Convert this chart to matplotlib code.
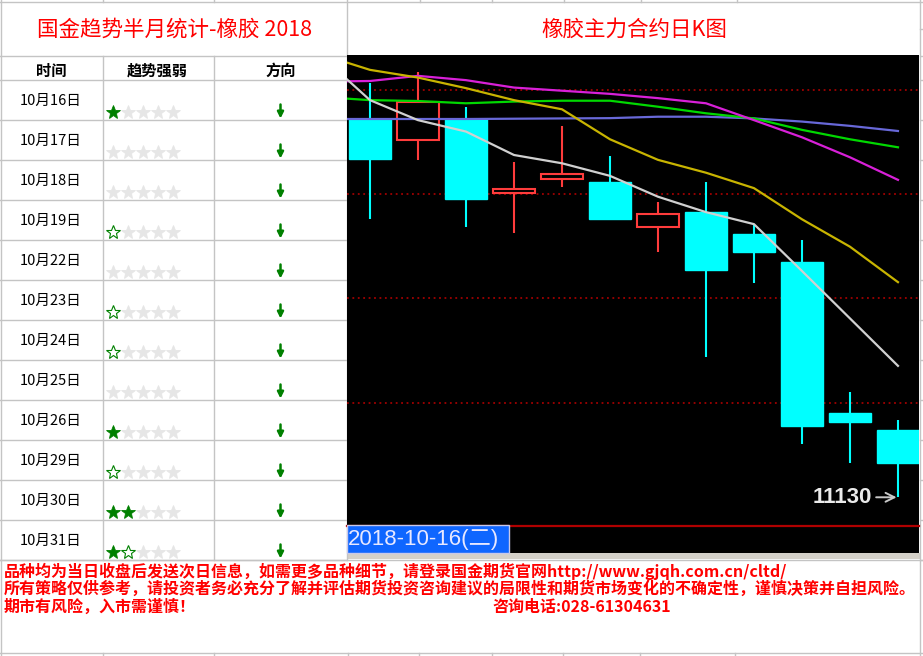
import matplotlib
matplotlib.use('Agg')
import matplotlib.pyplot as plt
from matplotlib.patches import Rectangle
from matplotlib.lines import Line2D

plt.rcParams['font.family'] = ['Noto Sans CJK SC', 'DejaVu Sans']

# ---------------- data ----------------
table_title = '国金趋势半月统计-橡胶 2018'
chart_title = '橡胶主力合约日K图'
headers = ['时间', '趋势强弱', '方向']
dates = ['10月16日', '10月17日', '10月18日', '10月19日', '10月22日', '10月23日',
         '10月24日', '10月25日', '10月26日', '10月29日', '10月30日', '10月31日']
# stars: whole number = filled star, .5 = hollow star
strength = [1, 0, 0, 0.5, 0, 0.5, 0.5, 0, 1, 0.5, 2, 1.5]
direction = ['down', 'down', 'down', 'down', 'down', 'down',
             'down', 'down', 'down', 'down', 'down', 'down']

opens  = [12455, 12380, 12455, 12195, 12245, 12235, 12075, 12130, 12050, 11955, 11425, 11365]
highs  = [12580, 12620, 12495, 12305, 12430, 12325, 12165, 12235, 12085, 12030, 11500, 11400]
lows   = [12105, 12310, 12075, 12055, 12215, 12100, 11990, 11620, 11880, 11315, 11250, 11130]
closes = [12315, 12515, 12175, 12210, 12260, 12105, 12120, 11925, 11990, 11380, 11395, 11250]

# moving averages, first value belongs to the day before the first candle
ma5  = [12672, 12520, 12450, 12410, 12328, 12299, 12255, 12182, 12128, 12086, 11922, 11756, 11590]
ma10 = [12679, 12626, 12599, 12562, 12520, 12488, 12383, 12311, 12266, 12212, 12103, 12007, 11883]
ma20 = [12585, 12587, 12605, 12590, 12564, 12553, 12542, 12527, 12509, 12450, 12390, 12320, 12241]
ma40 = [12531, 12520, 12517, 12509, 12515, 12518, 12518, 12497, 12474, 12456, 12416, 12383, 12355]
ma60 = [12454, 12454, 12454, 12454, 12455, 12456, 12457, 12462, 12462, 12456, 12445, 12430, 12412]
grid_levels = [12556, 12191, 11827, 11460]
cursor_date = '2018-10-16(二)'

notes = ['品种均为当日收盘后发送次日信息，如需更多品种细节，请登录国金期货官网http://www.gjqh.com.cn/cltd/',
         '所有策略仅供参考，请投资者务必充分了解并评估期货投资咨询建议的局限性和期货市场变化的不确定性，谨慎决策并自担风险。',
         '期市有风险，入市需谨慎！']
phone = '咨询电话:028-61304631'

# ---------------- layout ----------------
W, H = 923, 656
fig = plt.figure(figsize=(W / 100, H / 100), dpi=100)
fig.patch.set_facecolor('white')

bg = fig.add_axes([0, 0, 1, 1])
bg.set_xlim(0, W)
bg.set_ylim(H, 0)
bg.axis('off')

GRID = '#c4c4c4'
col_x = [0.5, 102.5, 213.5, 347]
title_h, header_b, row_h = 55.5, 79.5, 40
n = len(dates)
table_b = header_b + n * row_h

def hline(y, x0, x1, **kw):
    bg.add_line(Line2D([x0, x1], [y, y], color=GRID, lw=1, **kw))

def vline(x, y0, y1, **kw):
    bg.add_line(Line2D([x, x], [y0, y1], color=GRID, lw=1, **kw))

# outer / row lines
hline(1.5, 0, W)
hline(title_h, 0, 347)
for r in range(n + 1):
    hline(header_b + r * row_h, 0, 347)
    hline(header_b + r * row_h, 920, W)
hline(title_h, 920, W)
hline(29, 920, W)
hline(table_b, 0, W)
hline(653, 0, W)
vline(col_x[0], 0, H)
for x in col_x[1:3]:
    vline(x, title_h, table_b)
    vline(x, 0, 1.5)
    vline(x, 653, H)
vline(347, 0, table_b)
vline(920, 0, H)
for x in [348, 419, 492, 563, 640, 735]:
    vline(x, 653, H)
for x in [420, 492, 564, 641, 737]:
    vline(x, 0, 1.5)

# titles
bg.text(175, 30, table_title, color='#ff0000', fontsize=15.5, ha='center', va='center')
bg.text(634, 30, chart_title, color='#ff0000', fontsize=15.5, ha='center', va='center')

# header
centers = [51, 157, 280.5]
for cx, h in zip(centers, headers):
    bg.text(cx, 71, h, fontsize=11, fontweight='bold', ha='center', va='center', color='black')

# rows
star_x = [113 + 15 * k for k in range(5)]
for r, (d, s, dr) in enumerate(zip(dates, strength, direction)):
    top = header_b + r * row_h
    bg.text(centers[0], top + 21, d, fontsize=10.5, ha='center', va='center', color='black')
    for k, sx in enumerate(star_x):
        if s >= k + 1:
            bg.plot(sx, top + 32, marker='*', ms=10.5, mfc='#008000', mec='#008000', mew=0.6)
        elif s >= k + 0.5:
            bg.plot(sx, top + 32, marker='*', ms=10.5, mfc='white', mec='#008000', mew=0.8)
        else:
            bg.plot(sx, top + 32, marker='*', ms=10.5, mfc='#e6e6e6', mec='#e6e6e6', mew=0.6)
    if dr == 'down':
        bg.annotate('', xy=(centers[2], top + 39), xytext=(centers[2], top + 25),
                    arrowprops=dict(arrowstyle='-|>', color='#008000', lw=1.8,
                                    mutation_scale=9, shrinkA=0, shrinkB=0))

# notes
for i, line in enumerate(notes):
    bg.text(4, 571 + i * 18, line, fontsize=11.5, fontweight='bold', color='#ff0000',
            ha='left', va='center')
bg.text(492, 571 + 2 * 18, phone, fontsize=11.5, fontweight='bold', color='#ff0000',
        ha='left', va='center')

# black chart background + gray strip
bg.add_patch(Rectangle((347, 55), 919 - 347, 553 - 55, facecolor='black', edgecolor='none'))
bg.add_patch(Rectangle((347, 553), 920 - 347, 6, facecolor='#d4d0c8', edgecolor='none'))

# ---------------- candlestick chart ----------------
ax = fig.add_axes([347 / W, (H - 526) / H, (919 - 347) / W, (526 - 55) / H])
ax.set_facecolor('black')
ax.set_xlim(-0.479, 11.438)
ax.set_ylim(11029.5, 12678)
for sp in ['top', 'left', 'right']:
    ax.spines[sp].set_visible(False)
ax.spines['bottom'].set_color('#b00000')
ax.spines['bottom'].set_linewidth(1.6)
ax.set_xticks([])
ax.set_yticks([])

for g in grid_levels:
    ax.axhline(g, color='#a00000', lw=1.3, ls=(0, (1, 2)), zorder=1)

UP, DOWN = '#ff3c3c', '#00ffff'
bw = 0.88
for i, (o, h, l, c) in enumerate(zip(opens, highs, lows, closes)):
    col = UP if c > o else DOWN
    ax.plot([i, i], [l, h], color=col, lw=1.5, zorder=2, solid_capstyle='butt')
    lo_b, hi_b = min(o, c), max(o, c)
    if c > o:
        ax.add_patch(Rectangle((i - bw / 2, lo_b), bw, hi_b - lo_b, facecolor='black',
                               edgecolor=col, lw=1.5, zorder=3))
    else:
        ax.add_patch(Rectangle((i - bw / 2, lo_b), bw, hi_b - lo_b, facecolor=col,
                               edgecolor=col, lw=1.0, zorder=3))

xs = list(range(-1, len(opens)))
for vals, colr in [(ma60, '#6868d8'), (ma40, '#00d800'), (ma20, '#d820d8'),
                   (ma10, '#c8b400'), (ma5, '#d0d0d0')]:
    ax.plot(xs, vals, color=colr, lw=1.6, zorder=4)

last = len(opens) - 1
ax.annotate(f'{lows[last]}', xy=(last, lows[last]), xytext=(-26, 0),
            textcoords='offset pixels', ha='right', va='center', color='#eaeaea',
            fontsize=16, fontweight='bold', family=['Liberation Sans', 'DejaVu Sans'],
            arrowprops=dict(arrowstyle='->', color='#c8c8c8', lw=1.4,
                            shrinkA=1, shrinkB=1), zorder=6)

# ---------------- cursor date box ----------------
ov = fig.add_axes([0, 0, 1, 1])
ov.set_xlim(0, W)
ov.set_ylim(H, 0)
ov.axis('off')
ov.patch.set_alpha(0)
ov.add_patch(Rectangle((347, 525), 508.5 - 347, 553 - 525, facecolor='#0f66ff',
                       edgecolor='#c8c8e8', lw=1))
ov.text(348, 540, cursor_date, color='#e8e8ff', fontsize=16, ha='left', va='center',
        family=['Liberation Sans', 'Noto Sans CJK SC'])

fig.savefig('out.png', dpi=100, facecolor='white')
